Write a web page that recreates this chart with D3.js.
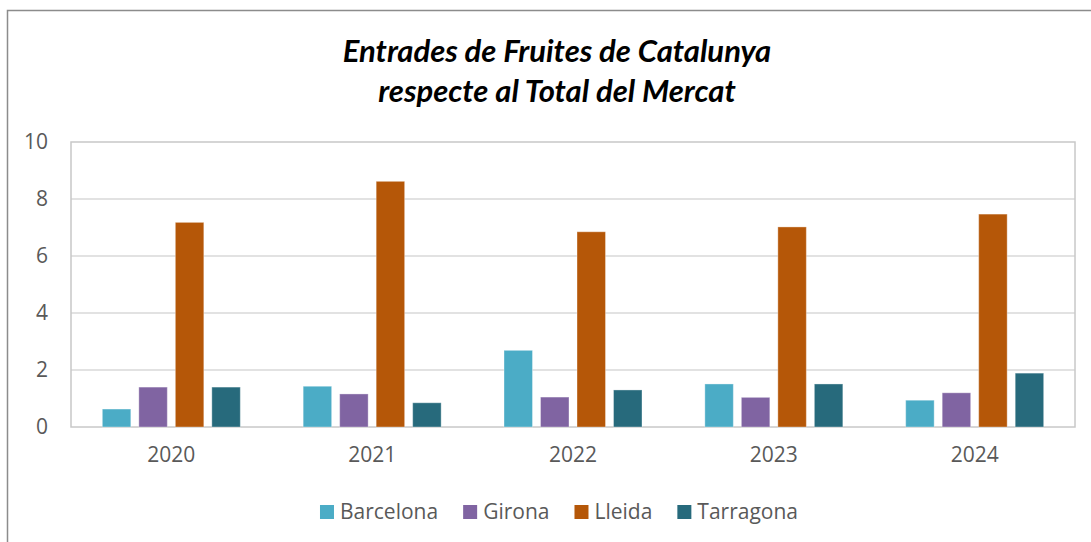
<!DOCTYPE html>
<html>
<head>
<meta charset="utf-8">
<script src="https://cdn.jsdelivr.net/npm/d3@7"></script>
<style>
  body { margin: 0; background: #fff; }
  svg { display: block; }
  text { font-family: "Open Sans", sans-serif; fill: #595959; }
</style>
</head>
<body>
<div id="chart"></div>
<script>
// dades llegides del grafic (%)
var years = ["2020", "2021", "2022", "2023", "2024"];
var provinces = ["Barcelona", "Girona", "Lleida", "Tarragona"];
var barcelona = [0.63, 1.43, 2.69, 1.51, 0.94];
var girona    = [1.40, 1.16, 1.05, 1.04, 1.20];
var lleida    = [7.18, 8.62, 6.85, 7.02, 7.47];
var tarragona = [1.40, 0.85, 1.30, 1.51, 1.89];
var yTicks = [0, 2, 4, 6, 8, 10];
var colors = ["#4bacc6", "#8064a2", "#b55708", "#276a7c"];

var series = [barcelona, girona, lleida, tarragona];

var w = 1091, h = 542;
var plot = {left: 71, right: 1075, top: 142, bottom: 427};

var svg = d3.select("#chart").append("svg")
  .attr("width", w)
  .attr("height", h);

// marc exterior
svg.append("path")
  .attr("d", "M7.5," + h + "V10.5H" + w)
  .attr("fill", "none")
  .attr("stroke", "#8c8c8c")
  .attr("stroke-width", 1.5);

// titol
var title = svg.append("text")
  .attr("text-anchor", "middle")
  .style("font-family", "Lato, sans-serif")
  .style("font-weight", "bold")
  .style("font-style", "italic")
  .style("font-size", "31px")
  .style("fill", "#000");
title.append("tspan").attr("x", 557).attr("y", 62).text("Entrades de Fruites de Catalunya");
title.append("tspan").attr("x", 557).attr("y", 102).text("respecte al Total del Mercat");

var x0 = d3.scaleBand()
  .domain(years)
  .range([plot.left, plot.right])
  .paddingInner(0.273)
  .paddingOuter(0.136);

var x1 = d3.scaleBand()
  .domain(provinces)
  .range([0, x0.bandwidth()])
  .paddingInner(0.22)
  .paddingOuter(0.11);

var y = d3.scaleLinear()
  .domain([0, 10])
  .range([plot.bottom, plot.top]);

// linies de quadricula
svg.append("g")
  .selectAll("line")
  .data(yTicks.slice(1, -1))
  .join("line")
  .attr("x1", plot.left)
  .attr("x2", plot.right)
  .attr("y1", function(d) { return y(d); })
  .attr("y2", function(d) { return y(d); })
  .attr("stroke", "#d9d9d9")
  .attr("stroke-width", 1.5);

// vora de l'area del grafic
svg.append("rect")
  .attr("x", plot.left)
  .attr("y", plot.top)
  .attr("width", plot.right - plot.left)
  .attr("height", plot.bottom - plot.top)
  .attr("fill", "none")
  .attr("stroke", "#c8c8c8")
  .attr("stroke-width", 1.5);

// barres
var groups = svg.append("g")
  .selectAll("g")
  .data(years)
  .join("g")
  .attr("transform", function(d) { return "translate(" + x0(d) + ",0)"; });

groups.selectAll("rect")
  .data(function(d, i) {
    return provinces.map(function(p, j) { return {p: p, v: series[j][i], c: colors[j]}; });
  })
  .join("rect")
  .attr("x", function(d) { return x1(d.p); })
  .attr("y", function(d) { return y(d.v); })
  .attr("width", x1.bandwidth())
  .attr("height", function(d) { return y(0) - y(d.v); })
  .attr("fill", function(d) { return d.c; })
  .attr("stroke", "#fff")
  .attr("stroke-opacity", 0.35)
  .attr("stroke-width", 1);

// eix Y
var yAxis = svg.append("g")
  .attr("transform", "translate(" + (plot.left - 23) + ",0)")
  .call(d3.axisLeft(y).tickValues(yTicks).tickSize(0).tickPadding(0));
yAxis.select(".domain").remove();
yAxis.selectAll("text")
  .style("font-size", "21px")
  .style("font-family", "Open Sans, sans-serif")
  .attr("fill", "#595959");

// eix X
var xAxis = svg.append("g")
  .attr("transform", "translate(0," + plot.bottom + ")")
  .call(d3.axisBottom(x0).tickSize(0).tickPadding(20));
xAxis.select(".domain").remove();
xAxis.selectAll("text")
  .style("font-size", "21px")
  .style("font-family", "Open Sans, sans-serif")
  .attr("fill", "#595959");

// llegenda
var legend = svg.append("g");
var items = legend.selectAll("g")
  .data(provinces)
  .join("g");
items.append("rect")
  .attr("width", 14)
  .attr("height", 14)
  .attr("y", -14)
  .attr("fill", function(d, i) { return colors[i]; });
items.append("text")
  .attr("x", 20)
  .attr("y", 0)
  .style("font-size", "21px")
  .text(function(d) { return d; });

var pos = 0;
items.each(function() {
  var g = d3.select(this);
  g.attr("transform", "translate(" + pos + ",0)");
  pos += 20 + g.select("text").node().getComputedTextLength() + 25;
});
var legendWidth = pos - 25;
legend.attr("transform", "translate(" + (559 - legendWidth / 2) + ",519)");
</script>
</body>
</html>
